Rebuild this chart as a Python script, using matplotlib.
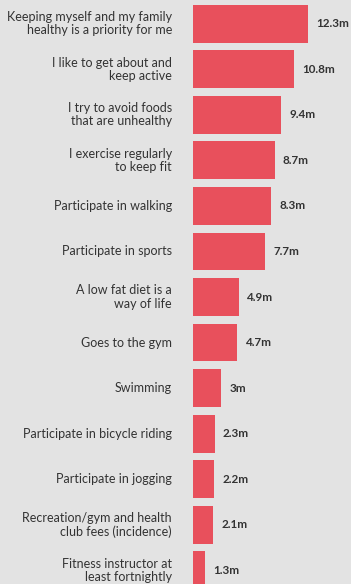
import matplotlib.pyplot as plt

labels = [
    "Keeping myself and my family\nhealthy is a priority for me",
    "I like to get about and\nkeep active",
    "I try to avoid foods\nthat are unhealthy",
    "I exercise regularly\nto keep fit",
    "Participate in walking",
    "Participate in sports",
    "A low fat diet is a\nway of life",
    "Goes to the gym",
    "Swimming",
    "Participate in bicycle riding",
    "Participate in jogging",
    "Recreation/gym and health\nclub fees (incidence)",
    "Fitness instructor at\nleast fortnightly",
]
values = [12.3, 10.8, 9.4, 8.7, 8.3, 7.7, 4.9, 4.7, 3.0, 2.3, 2.2, 2.1, 1.3]
value_labels = ["12.3m", "10.8m", "9.4m", "8.7m", "8.3m", "7.7m", "4.9m",
                "4.7m", "3m", "2.3m", "2.2m", "2.1m", "1.3m"]

bg = "#e3e3e3"
bar_color = "#e8505c"
text_color = "#333333"

fig = plt.figure(figsize=(3.51, 5.84), dpi=100, facecolor=bg)
ax = fig.add_axes([0, 0, 1, 1], facecolor=bg)

pos = list(range(len(values)))
ax.barh(pos, values, height=0.83, color=bar_color)

for y, v, lab, vl in zip(pos, values, labels, value_labels):
    ax.text(-2.25, y, lab, ha="right", va="center", fontsize=9,
            color=text_color, linespacing=1.12, family="Lato")
    ax.text(v + 0.9, y, vl, ha="left", va="center", fontsize=8.4,
            color=text_color, fontweight="bold", family="Lato")

ax.set_xlim(-20.6, 16.86)
ax.set_ylim(12.3, -0.52)
ax.axis("off")

fig.savefig("out.png", dpi=100, facecolor=bg)
